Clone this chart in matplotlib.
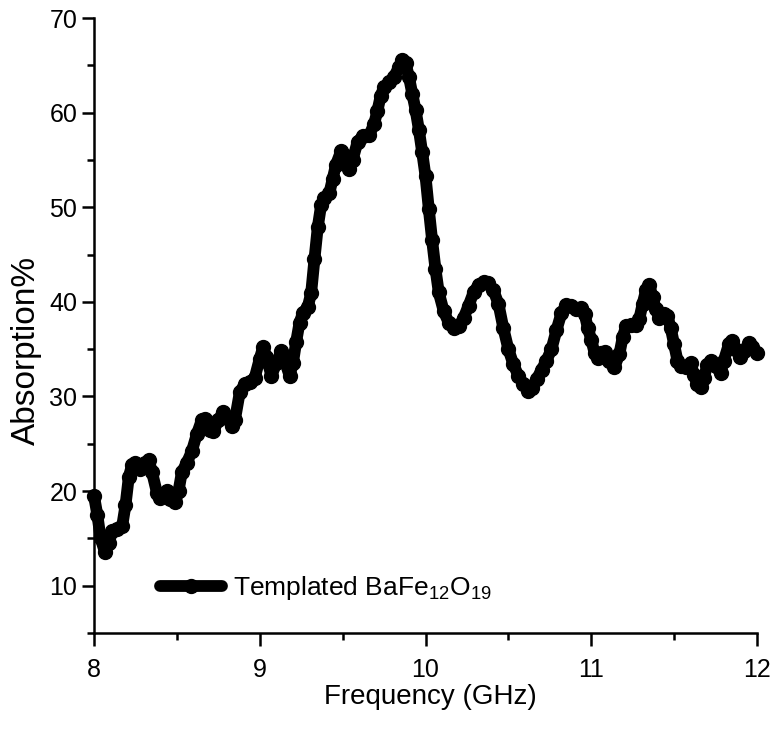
import matplotlib
matplotlib.use('Agg')
import matplotlib.pyplot as plt
from matplotlib.ticker import MultipleLocator

# values
freq = [8.00, 8.02, 8.04, 8.065, 8.09, 8.11, 8.14, 8.17, 8.19, 8.21, 8.23, 8.25,
        8.28, 8.31, 8.33, 8.35, 8.38, 8.40, 8.42, 8.44, 8.46, 8.49, 8.51, 8.53,
        8.56, 8.59, 8.62, 8.65, 8.67, 8.70, 8.72, 8.75, 8.78, 8.80, 8.83, 8.85,
        8.88, 8.91, 8.94, 8.97, 9.00, 9.02, 9.04, 9.07, 9.10, 9.13, 9.15, 9.18,
        9.20, 9.22, 9.24, 9.26, 9.29, 9.31, 9.33, 9.35, 9.37, 9.39, 9.42, 9.44,
        9.46, 9.49, 9.51, 9.54, 9.56, 9.59, 9.62, 9.66, 9.69, 9.71, 9.73, 9.75,
        9.78, 9.81, 9.84, 9.86, 9.88, 9.90, 9.92, 9.94, 9.96, 9.98, 10.00, 10.02,
        10.04, 10.06, 10.08, 10.11, 10.14, 10.17, 10.20, 10.23, 10.26, 10.29,
        10.32, 10.35, 10.38, 10.41, 10.44, 10.47, 10.50, 10.53, 10.56, 10.59,
        10.62, 10.64, 10.67, 10.70, 10.73, 10.76, 10.79, 10.82, 10.85, 10.88,
        10.91, 10.94, 10.96, 10.98, 11.00, 11.02, 11.04, 11.06, 11.08, 11.11,
        11.14, 11.17, 11.19, 11.21, 11.24, 11.27, 11.29, 11.31, 11.33, 11.35,
        11.37, 11.39, 11.41, 11.44, 11.46, 11.48, 11.50, 11.52, 11.54, 11.57,
        11.60, 11.62, 11.64, 11.66, 11.68, 11.70, 11.72, 11.75, 11.78, 11.80,
        11.83, 11.85, 11.87, 11.90, 11.92, 11.95, 11.97, 12.00]
absorption = [19.5, 17.5, 15.0, 13.6, 14.5, 15.8, 16.0, 16.3, 18.5, 21.5, 22.8, 23.0,
              22.3, 23.0, 23.3, 22.0, 19.8, 19.3, 19.6, 20.0, 19.2, 18.8, 20.0, 22.0,
              23.0, 24.2, 26.0, 27.5, 27.6, 26.5, 26.3, 27.5, 28.4, 27.8, 26.9, 27.5,
              30.5, 31.3, 31.5, 32.0, 34.0, 35.2, 34.2, 32.2, 33.5, 34.8, 33.8, 32.2,
              33.5, 35.8, 37.8, 38.8, 39.5, 40.9, 44.5, 47.9, 50.2, 51.0, 51.5, 53.0,
              54.5, 55.9, 55.5, 54.0, 55.0, 56.9, 57.5, 57.6, 58.8, 60.2, 61.8, 62.7,
              63.2, 63.8, 64.8, 65.6, 65.2, 63.8, 62.0, 60.3, 58.2, 55.8, 53.3, 49.8,
              46.5, 43.5, 41.0, 39.0, 37.8, 37.2, 37.4, 38.3, 39.6, 41.0,
              41.8, 42.1, 42.0, 41.2, 39.8, 37.2, 35.0, 33.4, 32.2, 31.3,
              30.6, 30.9, 31.8, 32.8, 33.8, 35.0, 37.0, 38.8, 39.7, 39.6,
              39.2, 39.3, 38.7, 37.2, 36.0, 34.6, 34.1, 34.6, 34.7, 33.7,
              33.1, 34.5, 36.3, 37.4, 37.6, 37.6, 38.2, 39.8, 41.2, 41.8,
              40.5, 39.2, 38.3, 38.7, 38.5, 37.2, 35.5, 33.8, 33.2, 33.1,
              33.5, 32.3, 31.3, 31.0, 32.0, 33.3, 33.8, 33.2, 32.5, 33.8,
              35.5, 35.9, 35.0, 34.2, 34.8, 35.6, 35.2, 34.6]

font = ['Liberation Sans', 'DejaVu Sans']

fig = plt.figure(figsize=(7.71, 7.30), dpi=100)
ax = fig.add_axes([94 / 771, 97 / 730, 663 / 771, 615 / 730])

ax.plot(freq, absorption, color='black', lw=8.5, marker='o', ms=10,
        solid_capstyle='round', solid_joinstyle='round', clip_on=False,
        label='Templated BaFe$_\\mathregular{12}$O$_\\mathregular{19}$')

ax.set_xlim(8, 12)
ax.set_ylim(5, 70)
ax.xaxis.set_major_locator(MultipleLocator(1))
ax.xaxis.set_minor_locator(MultipleLocator(0.5))
ax.set_yticks(range(10, 71, 10))
ax.yaxis.set_minor_locator(MultipleLocator(5))

for side in ['top', 'right']:
    ax.spines[side].set_visible(False)
for side in ['left', 'bottom']:
    ax.spines[side].set_linewidth(1.8)

ax.tick_params(which='major', direction='out', length=9, width=1.8,
               labelsize=18, labelfontfamily=font)
ax.tick_params(which='minor', direction='out', length=5, width=1.8)
ax.tick_params(axis='x', pad=9)
ax.tick_params(axis='y', pad=3)

leg = ax.legend(loc='center left', bbox_to_anchor=(0.0995, 0.073),
                frameon=False, borderaxespad=0, borderpad=0,
                handlelength=2.35, handletextpad=0.4, numpoints=1,
                prop={'family': font, 'size': 19})

fig.text(430 / 771, 1 - 697 / 730, 'Frequency (GHz)', ha='center', va='center',
         fontsize=20, family=font)
fig.text(26 / 771, 1 - 350 / 730, 'Absorption%', ha='center', va='center',
         rotation=90, fontsize=24, family=font)

fig.savefig('out.png', dpi=100)
